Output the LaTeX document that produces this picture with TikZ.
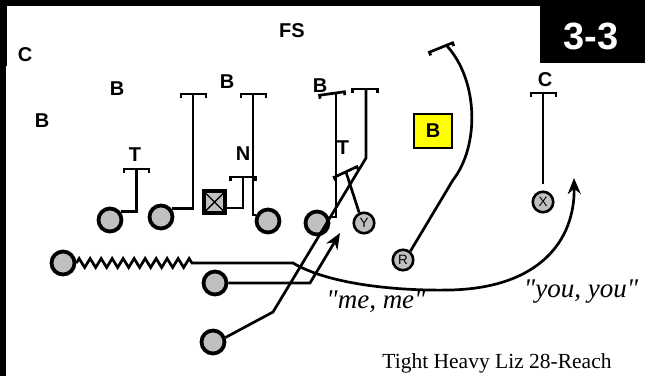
\documentclass[tikz,border=0pt]{standalone}
\usepackage{fontspec}
\setmainfont{Liberation Sans}
\newfontfamily\serifit{Liberation Serif}
\usetikzlibrary{arrows.meta,decorations.pathmorphing,calc}
\definecolor{plgray}{RGB}{192,192,192}
\definecolor{ybox}{RGB}{255,255,0}
\begin{document}
\begin{tikzpicture}[x=1pt,y=-1pt,
  lab/.style={font=\fontsize{20}{20}\selectfont\bfseries, inner sep=0pt},
  pl/.style={circle, draw=black, line width=3.8pt, fill=plgray, minimum size=23pt, inner sep=0pt},
  lp/.style={circle, draw=black, line width=2.6pt, fill=plgray, minimum size=20.5pt, inner sep=0pt, font=\fontsize{13.5}{13.5}\selectfont},
  route/.style={draw=black, line width=2.7pt},
  arr/.style={route, -{Stealth[length=16pt,width=13pt]}},
  tbar/.pic={\draw[line width=2.7pt] (-12.5,3.5)--(-12.5,0)--(12.5,0)--(12.5,3.5);},
]
% canvas
\fill[white] (0,0) rectangle (645,376);
\useasboundingbox (0,0) rectangle (645,376);
\fill[black] (0,0) rectangle (645,5.5);
\fill[black] (0,0) rectangle (7,66);
\fill[black] (0,0) rectangle (5.5,376);
\fill[black] (540,0) rectangle (645,63);
\node[text=white, font=\fontsize{38}{38}\selectfont\bfseries, inner sep=0pt] (title) at (591,36) {3-3};

% defender labels
\node[lab] (fs) at (292,31) {FS};
\node[lab] (cl) at (25,55) {C};
\node[lab] (ba) at (117,89) {B};
\node[lab] (bb) at (42,121) {B};
\node[lab] (tl) at (135,155) {T};
\node[lab] (bc) at (227,82) {B};
\node[lab] (nl) at (243,154) {N};
\node[lab] (bd) at (320,86) {B};
\node[lab] (tr) at (343,148) {T};
\node[lab] (cr) at (545,80) {C};
\node[lab, draw=black, line width=2.4pt, fill=ybox, minimum width=37.5pt, minimum height=33.5pt] (yb) at (433,131) {B};

% offense
\node[pl] (l1) at (110,220) {};
\node[pl] (l2) at (161,217) {};
\node[draw=black, line width=3.6pt, fill=plgray, minimum size=21.5pt, inner sep=0pt,
  path picture={\draw[line width=1.4pt] (path picture bounding box.north west) -- (path picture bounding box.south east)
  (path picture bounding box.north east) -- (path picture bounding box.south west);}] (c) at (214.5,202) {};
\node[pl] (l3) at (268,221) {};
\node[pl] (l4) at (317,223) {};
\node[lp] (Y) at (364,223) {Y};
\node[lp] (R) at (403,260) {R};
\node[lp] (X) at (543,202) {X};
\node[pl] (bz) at (63,263) {};
\node[pl] (hb) at (215,283) {};
\node[pl] (fb) at (213,342) {};

% block points
\coordinate (b1) at (136.5,169);
\coordinate (b2) at (193,94);
\coordinate (bN) at (243,177);
\coordinate (b3) at (253,94);
\coordinate (b4) at (336,93);
\coordinate (b5) at (366,89);
\coordinate (bT) at (346,172);
\coordinate (bR) at (447,46);
\coordinate (bC) at (543,93);

\draw[route] (l1.38) -| (b1);
\pic at (b1) {tbar};
\draw[route] (l2.38) -| (b2);
\pic at (193.5,94) {tbar};
\draw[route] ([yshift=-6pt]c.east) -| (bN);
\pic at (243,177) {tbar};
\draw[route] (l3.153) -| (b3);
\pic at (253.5,94) {tbar};
\draw[route] (l4.27) -| (b4);
\pic[rotate=8] at (332,93.5) {tbar};

\coordinate (k1) at (273,312);
\coordinate (k2) at (366,158);
\draw[route] (fb.20) -- (k1) -- (k2) -- (b5);
\pic at (365,89) {tbar};

\draw[route] (Y.115) -- (bT);
\pic[rotate=25] at (345.5,172) {tbar};

\coordinate (r1) at (453,180);
\draw[route] (R.50) -- (r1) .. controls (480,145) and (478,80) .. (bR);
\pic[rotate=22] at (441,47.5) {tbar};

\draw[route, shorten <=6pt] (X.north) -- (bC);
\pic at (543.5,93) {tbar};

\coordinate (h1) at (310,283);
\coordinate (h2) at (340,233);
\draw[arr] (hb.east) -- (h1) -- (h2);

\coordinate (z1) at (193,263);
\coordinate (z2) at (293,263);
\coordinate (zm) at (450,290);
\coordinate (a1) at (574,178);
\draw[route, decorate, decoration={zigzag, segment length=11pt, amplitude=4.5pt}] (bz.east) -- (z1);
\draw[arr] (z1) -- (z2) .. controls (330,285) and (400,291) .. (zm) .. controls (540,288) and (575,240) .. (a1);

% texts
\node[font=\serifit\itshape\fontsize{27}{27}\selectfont, inner sep=0pt, anchor=base] (me) at (376,308) {"me, me"};
\node[font=\serifit\itshape\fontsize{27}{27}\selectfont, inner sep=0pt, anchor=base] (you) at (581,297) {"you, you"};
\node[font=\serifit\fontsize{21.5}{21.5}\selectfont, inner sep=0pt, anchor=base] (cap) at (497,368) {Tight Heavy Liz 28-Reach};
\end{tikzpicture}
\end{document}
